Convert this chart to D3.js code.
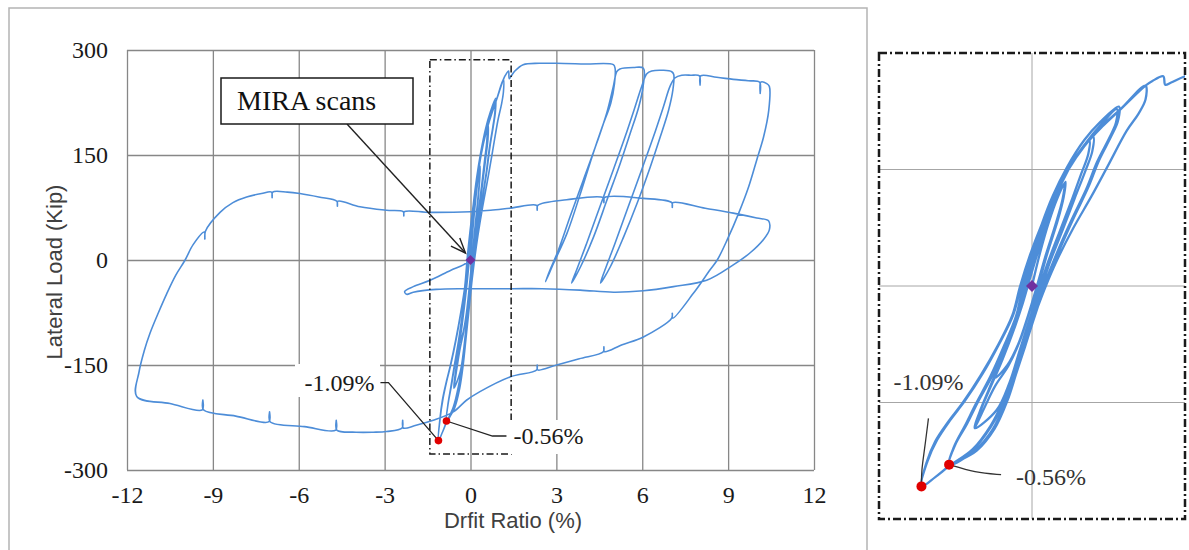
<!DOCTYPE html>
<html>
<head>
<meta charset="utf-8">
<script src="https://cdn.jsdelivr.net/npm/d3@7"></script>
<style>
    body { margin: 0; background: #fff; }
    svg { display: block; }
</style>
</head>
<body>
<div id="chart"></div>
<script>
// [drift ratio (%), lateral load (kip)]

// small elastic cycles around the origin (also shown in the inset)
const elasticLoops = [
    [0,0],[0.08,42],[0.17,82],[0.26,114],[0.33,132],
    [0.31,112],[0.24,80],[0.14,40],[0.05,0],[-0.04,-38],[-0.14,-75],[-0.25,-102],[-0.37,-118],
    [-0.3,-95],[-0.2,-62],[-0.1,-25],[-0.02,10],[0.07,48],[0.16,85],[0.25,113],[0.34,134],
    [0.32,114],[0.26,84],[0.16,44],[0.07,4],[-0.03,-35],[-0.13,-73],[-0.24,-103],[-0.37,-128],[-0.48,-156],[-0.58,-183],
    [-0.52,-160],[-0.42,-130],[-0.3,-95],[-0.18,-55],[-0.08,-15],[0,20],[0.1,60],[0.2,100],[0.31,135],[0.44,165],[0.58,188],
    [0.57,170],[0.5,145],[0.4,110],[0.28,70],[0.16,30],[0.07,-5],[-0.03,-45],[-0.13,-85],[-0.23,-125],[-0.36,-160],[-0.58,-183],
    [-0.53,-162],[-0.44,-134],[-0.32,-98],[-0.2,-58],[-0.1,-18],[-0.02,18],[0.08,58],[0.19,100],[0.31,137],[0.46,168],[0.62,192],
    [0.61,173],[0.54,148],[0.43,112],[0.31,72],[0.18,30],[0.09,-5],[-0.01,-44],[-0.11,-84],[-0.21,-124],[-0.33,-162],[-0.52,-200],[-0.68,-220],[-0.84,-230],
    [-0.78,-205],[-0.66,-178],[-0.55,-150],[-0.4,-115],[-0.26,-75],[-0.14,-38],[-0.07,0],[0.02,40],[0.12,80],[0.23,115],[0.37,150],[0.55,185],[0.7,208],[0.86,228],
    [0.85,210],[0.78,190],[0.66,160],[0.55,125],[0.4,85],[0.25,42],[0.12,0],[0.01,-40],[-0.09,-80],[-0.18,-115],[-0.27,-150],[-0.4,-185],[-0.58,-212],[-0.84,-230],
    [-0.79,-207],[-0.68,-180],[-0.57,-152],[-0.42,-116],[-0.28,-76],[-0.16,-38],[-0.09,0],[0,40],[0.1,80],[0.21,116],[0.35,152],[0.53,188],[0.69,211],[0.88,231],
    [0.87,212],[0.8,192],[0.68,162],[0.57,127],[0.42,87],[0.27,44],[0.14,2],[0.03,-38],[-0.07,-78],[-0.16,-113],[-0.25,-148],[-0.38,-184],[-0.56,-212],[-0.84,-232],
    [-0.98,-246],[-1.12,-258],
    [-1.07,-228],[-0.98,-200],[-0.85,-175],[-0.7,-150],[-0.52,-115],[-0.34,-75],[-0.2,-38],[-0.12,0],[-0.02,40],[0.1,80],[0.22,115],[0.36,150],[0.52,180],[0.7,205],[0.9,228],[1.15,258],
    [1.15,240],[1.08,222],[0.96,200],[0.77,155],[0.6,115],[0.42,75],[0.26,35],[0.14,0],[0.02,-40],[-0.1,-80],[-0.2,-115],[-0.3,-150],[-0.42,-180],[-0.6,-210],[-0.84,-232],[-0.98,-246],[-1.12,-258],
    [-1.06,-226],[-0.96,-198],[-0.83,-173],[-0.68,-148],[-0.5,-113],[-0.33,-74],[-0.19,-37],[-0.11,0],[-0.01,40],[0.11,80],[0.23,115],[0.37,150],[0.53,180],[0.71,205],[0.91,229],[1.15,258],
    [1.22,264],[1.33,270],[1.35,259],[1.41,262],[1.55,270]
];

// positive cycles to 5, 6, 7 and 10.4 %, then the push to -11.7 %
const pushCycles = [
    [1.84,279],[2.4,281],[3.01,281],[4.0,280],[4.99,279],[5.05,274],
    [5.03,252],[4.9,224],[4.6,190],[4.25,148],[3.84,95],[3.37,38],[2.9,-5],[2.62,-31],
    [2.78,-14],[3.07,14],[3.48,62],[3.94,114],[4.41,167],[4.76,210],[4.99,248],[5.11,269],[5.22,273],
    [5.69,275],[6.04,274],
    [6.03,248],[5.88,219],[5.58,181],[5.23,138],[4.77,86],[4.3,33],[3.84,-10],[3.53,-33],
    [3.71,-14],[4.06,24],[4.52,76],[4.99,129],[5.4,176],[5.75,219],[5.98,248],[6.16,266],[6.33,270],
    [6.74,271],[7.03,269],[7.1,265],
    [7.07,243],[6.92,214],[6.63,176],[6.28,133],[5.82,81],[5.35,33],[4.88,-10],[4.54,-33],
    [4.7,-14],[5.05,24],[5.51,76],[5.98,129],[6.39,176],[6.74,219],[6.97,248],[7.14,260],[7.38,264],
    [7.7,264],[8.0,263],[8.02,250],[8.04,263],[8.6,261],[9.18,258],[9.7,256],[10.1,254],[10.12,238],[10.14,254],[10.35,252],[10.44,248],
    [10.42,214],[10.24,176],[10.0,143],[9.72,105],[9.37,67],[8.97,29],[8.62,0],[8.37,-14],[7.78,-48],
    [7.07,-83],[7.05,-76],[7.03,-83],[6.04,-110],[5.3,-121],[4.68,-131],[4.66,-124],[4.64,-131],[3.8,-141],[3.01,-150],
    [2.35,-157],[2.33,-150],[2.31,-157],[1.38,-167],[0.33,-188],[-0.13,-200],[-0.6,-217],[-1.3,-229],[-1.9,-236],
    [-2.35,-240],[-2.37,-229],[-2.39,-240],[-2.93,-245],[-3.4,-246],[-4.0,-246],[-4.67,-243],[-4.69,-229],[-4.71,-243],
    [-5.8,-238],[-7.0,-231],[-7.02,-217],[-7.04,-231],[-8.2,-223],[-9.33,-214],[-9.35,-200],[-9.37,-214],[-10.5,-205],[-11.66,-195]
];

// return from -11.7 % to +10.4 % and back to the origin
const reversalCycle = [
    [-11.58,-160],[-11.4,-130],[-11.2,-105],[-10.9,-75],[-10.61,-48],[-10.3,-22],[-9.97,0],[-9.69,22],
    [-9.3,40],[-9.28,30],[-9.26,41],[-8.75,68],[-8.3,82],[-7.82,90],[-7.3,95],[-6.95,97],[-6.93,89],[-6.91,97],
    [-6.4,97],[-5.96,95],[-5.3,90],[-4.67,84],[-4.65,77],[-4.63,84],[-3.86,76],[-2.93,71],[-2.35,69],[-2.33,63],[-2.31,69],
    [-1.41,68],[0,69],[0.7,71],[1.38,74],[2.31,78],[2.33,71],[2.35,78],[3.36,86],[4.64,89],[4.66,82],[4.68,89],
    [6.04,88],[7.03,82],[7.05,75],[7.07,82],[8.2,74],[9.18,67],[10.0,60],[10.41,56],[10.44,43],[10.23,29],[9.76,10],
    [9.18,-7],[8.25,-29],[7.09,-38],[6.04,-44],[5.0,-46],[3.83,-43],[2.5,-41],[1.5,-41],[0.4,-41],[-0.25,-41],
    [-1.2,-42],[-2.0,-46],[-2.23,-49],[-2.3,-45],[-2.0,-38],[-1.41,-29],[-0.7,-15],[-0.25,-7],[0,0]
];

// MIRA scan points
const scanPoints = [
    { drift: -1.12, load: -258, label: "-1.09%" },
    { drift: -0.84, load: -230, label: "-0.56%" }
];
const originScan = { drift: 0, load: 0 };

const xTicks = [-12, -9, -6, -3, 0, 3, 6, 9, 12];
const yTicks = [-300, -150, 0, 150, 300];
const insetYTicks = [-150, 0, 150];
const insetXTicks = [0];

// window of the main plot that the inset enlarges
const zoomWindow = { drift: [-1.42, 1.42], load: [-277, 286] };
const insetDomain = { drift: [-1.55, 1.55], load: [-300, 300] };

const blue = "#4d8dd8";
const gridColor = "#878787";
const serif = "'Liberation Serif', 'Times New Roman', serif";

const svg = d3.select("#chart").append("svg")
    .attr("width", 1189)
    .attr("height", 550);

// outer frame of the main chart
svg.append("path")
    .attr("d", "M9,552V8H867V552")
    .attr("fill", "none")
    .attr("stroke", "#b4b4b4")
    .attr("stroke-width", 1.5);

// ---------- main chart ----------
const x = d3.scaleLinear().domain([-12, 12]).range([127, 814]);
const y = d3.scaleLinear().domain([-300, 300]).range([470, 50]);

const gx = svg.append("g")
    .attr("transform", `translate(0,${y(-300)})`)
    .call(d3.axisBottom(x).tickValues(xTicks).tickSize(-(y(-300) - y(300))).tickPadding(16).tickFormat(d => String(d)));
const gy = svg.append("g")
    .attr("transform", `translate(${x(-12)},0)`)
    .call(d3.axisLeft(y).tickValues(yTicks).tickSize(-(x(12) - x(-12))).tickPadding(19).tickFormat(d => String(d)));

[gx, gy].forEach(g => {
    g.select(".domain").remove();
    g.selectAll(".tick line").attr("stroke", gridColor).attr("stroke-width", 1.3);
    g.selectAll(".tick text")
        .style("font-family", serif)
        .style("font-size", "24px")
        .attr("fill", "#1a1a1a");
});

// axis titles
svg.append("text")
    .attr("transform", "translate(54,272) rotate(-90)")
    .attr("text-anchor", "middle")
    .attr("dominant-baseline", "central")
    .style("font-family", "'Liberation Sans', Arial, sans-serif")
    .style("font-size", "22px")
    .attr("fill", "#404040")
    .text("Lateral Load (Kip)");

svg.append("text")
    .attr("x", 513)
    .attr("y", 528)
    .attr("text-anchor", "middle")
    .style("font-family", "'Liberation Sans', Arial, sans-serif")
    .style("font-size", "22px")
    .attr("fill", "#404040")
    .text("Drfit Ratio (%)");

const line = d3.line()
    .x(d => x(d[0]))
    .y(d => y(d[1]))
    .curve(d3.curveCatmullRom.alpha(0.5));

svg.append("path")
    .datum(elasticLoops.concat(pushCycles, reversalCycle))
    .attr("d", line)
    .attr("fill", "none")
    .attr("stroke", blue)
    .attr("stroke-width", 1.6)
    .attr("stroke-linejoin", "round");

// dash-dot box marking the enlarged window
svg.append("rect")
    .attr("x", x(zoomWindow.drift[0]))
    .attr("y", y(zoomWindow.load[1]))
    .attr("width", x(zoomWindow.drift[1]) - x(zoomWindow.drift[0]))
    .attr("height", y(zoomWindow.load[0]) - y(zoomWindow.load[1]))
    .attr("fill", "none")
    .attr("stroke", "#1a1a1a")
    .attr("stroke-width", 1.5)
    .attr("stroke-dasharray", "7,3,1.5,3");

// "MIRA scans" callout with arrow
svg.append("defs").append("marker")
    .attr("id", "arrowHead")
    .attr("markerUnits", "userSpaceOnUse")
    .attr("viewBox", "-16 -8 18 16")
    .attr("markerWidth", 18)
    .attr("markerHeight", 16)
    .attr("refX", 0)
    .attr("refY", 0)
    .attr("orient", "auto")
    .append("path")
    .attr("d", "M-15,-6L0,0L-15,6")
    .attr("fill", "none")
    .attr("stroke", "#222")
    .attr("stroke-width", 1.4);

svg.append("line")
    .attr("x1", 347).attr("y1", 124)
    .attr("x2", x(originScan.drift) - 5).attr("y2", y(originScan.load) - 7)
    .attr("stroke", "#222")
    .attr("stroke-width", 1.4)
    .attr("marker-end", "url(#arrowHead)");

svg.append("rect")
    .attr("x", 221).attr("y", 78)
    .attr("width", 192).attr("height", 46)
    .attr("fill", "#fff")
    .attr("stroke", "#1a1a1a")
    .attr("stroke-width", 1.5);

svg.append("text")
    .attr("x", 237).attr("y", 110)
    .style("font-family", serif)
    .style("font-size", "28px")
    .attr("fill", "#111")
    .text("MIRA scans");

// labels of the two negative scan points
const mainLabels = [
    { bg: [295, 364, 85, 33], leader: [[-50, -58], [-58, -58]], tx: -64, ty: -58, anchor: "end" },
    { bg: [509, 420, 82, 34], leader: [[46, 15], [60, 15]], tx: 67, ty: 15, anchor: "start" }
];

scanPoints.forEach((p, i) => {
    const a = mainLabels[i];
    const px = x(p.drift), py = y(p.load);
    svg.append("rect")
        .attr("x", a.bg[0]).attr("y", a.bg[1])
        .attr("width", a.bg[2]).attr("height", a.bg[3])
        .attr("fill", "#fff");
    svg.append("path")
        .attr("d", d3.line()([[px, py]].concat(a.leader.map(o => [px + o[0], py + o[1]]))))
        .attr("fill", "none")
        .attr("stroke", "#222")
        .attr("stroke-width", 1.3);
    svg.append("text")
        .attr("x", px + a.tx).attr("y", py + a.ty)
        .attr("text-anchor", a.anchor)
        .attr("dominant-baseline", "central")
        .style("font-family", serif)
        .style("font-size", "24px")
        .attr("fill", "#1a1a1a")
        .text(p.label);
});

svg.selectAll(".scanDot")
    .data(scanPoints)
    .enter().append("circle")
    .attr("class", "scanDot")
    .attr("cx", d => x(d.drift))
    .attr("cy", d => y(d.load))
    .attr("r", 3.8)
    .attr("fill", "#e00000");

svg.append("path")
    .attr("d", d3.symbol(d3.symbolSquare, 50)())
    .attr("transform", `translate(${x(originScan.drift)},${y(originScan.load)}) rotate(45)`)
    .attr("fill", "#7030a0");

// ---------- inset ----------
const xi = d3.scaleLinear().domain(insetDomain.drift).range([879, 1185]);
const yi = d3.scaleLinear().domain(insetDomain.load).range([519, 53]);

svg.append("clipPath").attr("id", "insetClip")
    .append("rect")
    .attr("x", xi.range()[0]).attr("y", yi.range()[1])
    .attr("width", xi.range()[1] - xi.range()[0])
    .attr("height", yi.range()[0] - yi.range()[1]);

const inset = svg.append("g");

inset.selectAll(".hgrid")
    .data(insetYTicks)
    .enter().append("line")
    .attr("x1", xi.range()[0]).attr("x2", xi.range()[1])
    .attr("y1", d => yi(d)).attr("y2", d => yi(d))
    .attr("stroke", "#a6a6a6")
    .attr("stroke-width", 1);

inset.selectAll(".vgrid")
    .data(insetXTicks)
    .enter().append("line")
    .attr("x1", d => xi(d)).attr("x2", d => xi(d))
    .attr("y1", yi.range()[1]).attr("y2", yi.range()[0])
    .attr("stroke", "#a6a6a6")
    .attr("stroke-width", 1);

const insetLine = d3.line()
    .x(d => xi(d[0]))
    .y(d => yi(d[1]))
    .curve(d3.curveCatmullRom.alpha(0.5));

inset.append("path")
    .datum(elasticLoops.concat(pushCycles.slice(0, 3)))
    .attr("d", insetLine)
    .attr("clip-path", "url(#insetClip)")
    .attr("fill", "none")
    .attr("stroke", blue)
    .attr("stroke-width", 2.3)
    .attr("stroke-linejoin", "round");

// leader offsets run from the dot outwards
const insetLabels = [
    { leader: [[0, -16], [3, -36], [7, -68]], tx: -28, ty: -104 },
    { leader: [[26, 8], [52, 10]], tx: 67, ty: 12 }
];

scanPoints.forEach((p, i) => {
    const a = insetLabels[i];
    const px = xi(p.drift), py = yi(p.load);
    inset.append("path")
        .attr("d", d3.line().curve(d3.curveBasis)([[px, py]].concat(a.leader.map(o => [px + o[0], py + o[1]]))))
        .attr("fill", "none")
        .attr("stroke", "#333")
        .attr("stroke-width", 1.3);
    inset.append("text")
        .attr("x", px + a.tx).attr("y", py + a.ty)
        .attr("dominant-baseline", "central")
        .style("font-family", serif)
        .style("font-size", "24px")
        .attr("fill", "#333")
        .text(p.label);
});

inset.selectAll(".insetDot")
    .data(scanPoints)
    .enter().append("circle")
    .attr("cx", d => xi(d.drift))
    .attr("cy", d => yi(d.load))
    .attr("r", 5)
    .attr("fill", "#e00000");

inset.append("path")
    .attr("d", d3.symbol(d3.symbolSquare, 72)())
    .attr("transform", `translate(${xi(originScan.drift)},${yi(originScan.load)}) rotate(45)`)
    .attr("fill", "#7030a0");

inset.append("rect")
    .attr("x", xi.range()[0]).attr("y", yi.range()[1])
    .attr("width", xi.range()[1] - xi.range()[0])
    .attr("height", yi.range()[0] - yi.range()[1])
    .attr("fill", "none")
    .attr("stroke", "#1a1a1a")
    .attr("stroke-width", 2.5)
    .attr("stroke-dasharray", "8,3,2,3");
</script>
</body>
</html>
